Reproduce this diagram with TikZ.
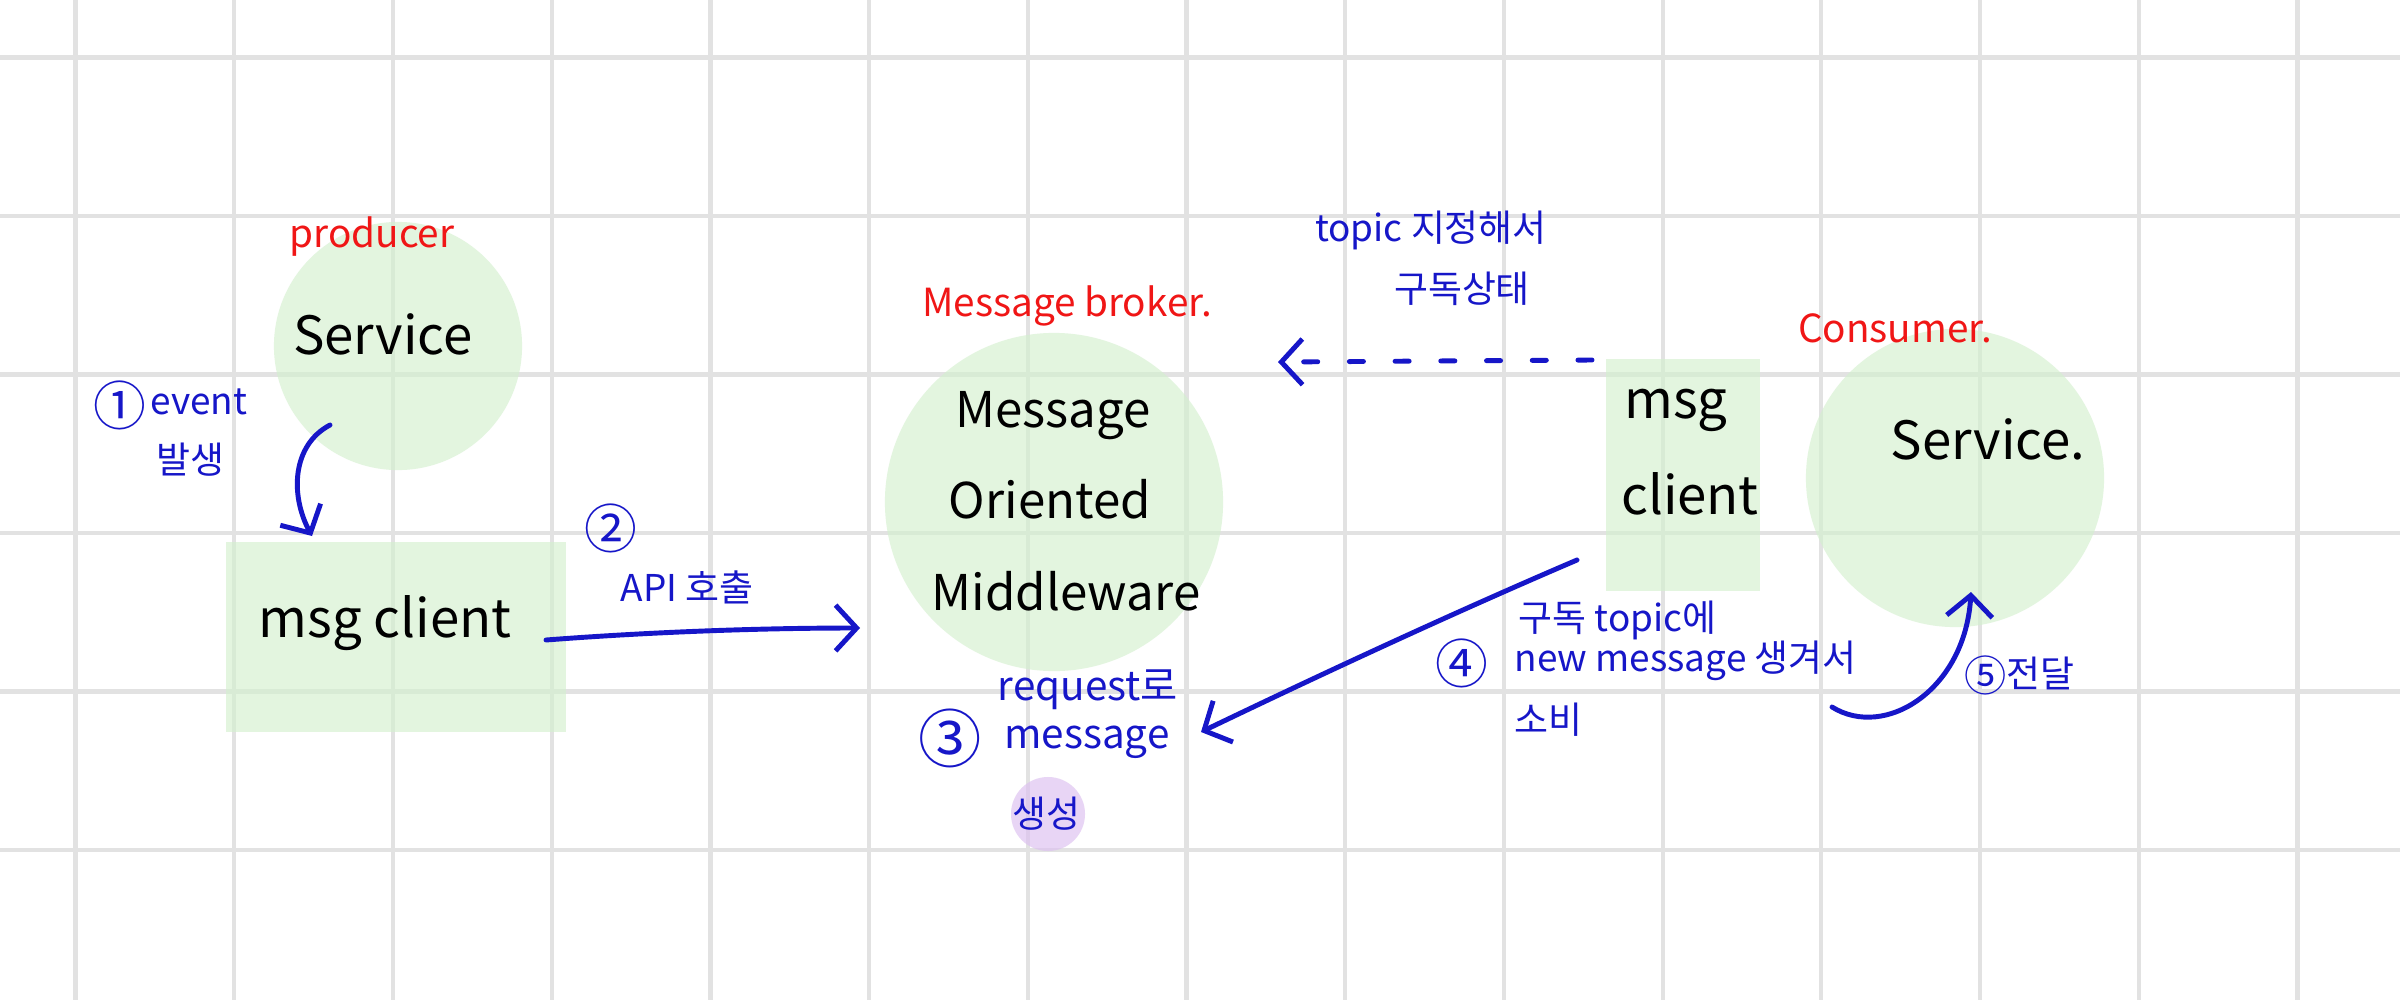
\documentclass[tikz,border=0pt]{standalone}
\usepackage{fontspec}
\setmainfont{Noto Sans CJK KR}
\usetikzlibrary{arrows.meta}
\definecolor{gridc}{RGB}{226,226,226}
\definecolor{greenb}{RGB}{212,240,207}
\definecolor{purpb}{RGB}{220,192,240}
\definecolor{penblue}{RGB}{22,22,200}
\definecolor{penred}{RGB}{240,22,22}
\tikzset{
  gridline/.style={draw=gridc, line width=1.2pt},
  greenblob/.style={fill=greenb, fill opacity=0.65, draw=none, inner sep=0pt},
  purpblob/.style={circle, fill=purpb, fill opacity=0.65, draw=none, inner sep=0pt, minimum size=0.74cm},
  blacktxt/.style={text=black, inner sep=0pt, font=\fontsize{15}{18}\selectfont},
  mowtxt/.style={text=black, inner sep=0pt, font=\fontsize{14}{17}\selectfont},
  redtxt/.style={text=penred, inner sep=0pt, font=\fontsize{11}{13}\selectfont},
  bluetxt/.style={text=penblue, inner sep=0pt, font=\fontsize{10.5}{12}\selectfont},
  numtxt/.style={text=penblue, inner sep=0pt, font=\fontsize{15}{17}\selectfont},
  penarrow/.style={draw=penblue, line width=1.4pt, line cap=round, line join=round,
    -{Straight Barb[length=6pt,width=13pt,line width=1.4pt]}},
}
\begin{document}
\begin{tikzpicture}[x=0.01cm,y=-0.01cm]
\useasboundingbox (0,0) rectangle (2400,1000);
\fill[white] (0,0) rectangle (2400,1000);
% grid
\foreach \i in {0,...,14} \draw[gridline] ({75.6+158.7*\i},0) -- ({75.6+158.7*\i},1000);
\foreach \j in {0,...,5} \draw[gridline] (0,{57.5+158.5*\j}) -- (2400,{57.5+158.5*\j});

% shapes
\node[greenblob, circle, minimum size=2.48cm] (prodsvc) at (398,346) {};
\node[greenblob, rectangle, minimum width=3.4cm, minimum height=1.89cm] (prodcli) at (396,637) {};
\node[greenblob, circle, minimum size=3.38cm] (broker) at (1054,502) {};
\node[greenblob, rectangle, minimum width=1.53cm, minimum height=2.31cm] (conscli) at (1683,475) {};
\node[greenblob, circle, minimum size=2.98cm] (conssvc) at (1955,478) {};
\node[purpblob] (createhl) at (1048,814) {};

% black texts
\node[blacktxt] (prodsvct) at (383,334) {Service};
\node[blacktxt] (prodclit) at (385,623) {msg client};
\node[mowtxt] (mow1) at (1053,416) {Message};
\node[mowtxt] (mow2) at (1050,499) {Oriented};
\node[mowtxt] (mow3) at (1066,591) {Middleware};
\node[blacktxt] (conscli1) at (1676,410) {msg};
\node[blacktxt] (conscli2) at (1690,494) {client};
\node[blacktxt] (conssvct) at (1988,439) {Service.};

% red labels
\node[redtxt] (prodlbl) at (372,237) {producer};
\node[redtxt] (brokerlbl) at (1067,306) {Message broker.};
\node[redtxt] (conslbl) at (1895,328) {Consumer.};

% blue annotations
\node[numtxt] (n1) at (120,405) {①};
\node[bluetxt, anchor=west] (ev1) at (150,402) {event};
\node[bluetxt] (ev2) at (190,460) {발생};
\node[numtxt] (n2) at (611,528) {②};
\node[bluetxt] (api) at (687,587) {API 호출};
\node[bluetxt, font=\fontsize{11.5}{13}\selectfont] (req) at (1088,690) {request로};
\node[numtxt, font=\fontsize{18}{20}\selectfont] (n3) at (950,738) {③};
\node[bluetxt, font=\fontsize{11.5}{13}\selectfont] (msg3) at (1087,742) {message};
\node[bluetxt] (gen) at (1046,814) {생성};
\node[bluetxt] (top1) at (1431,230) {topic 지정해서};
\node[bluetxt] (top2) at (1462,289) {구독상태};
\node[numtxt] (n4) at (1462,663) {④};
\node[bluetxt, anchor=west] (c1) at (1518,620) {구독 topic에};
\node[bluetxt, anchor=west] (c2) at (1514,661) {new message 생겨서};
\node[bluetxt, anchor=west] (c3) at (1514,720) {소비};
\node[numtxt, font=\fontsize{12}{14}\selectfont] (n5) at (1986,675) {⑤};
\node[bluetxt] (deliv) at (2040,673) {전달};

% connector end points
\coordinate (a1s) at (330,425);
\coordinate (a1e) at (312,536);
\coordinate (a2s) at (546,640);
\coordinate (a2e) at (860,628);
\coordinate (dss) at (1592,360);
\coordinate (dse) at (1278,362);
\coordinate (a4s) at (1577,560);
\coordinate (a4e) at (1201,732);
\coordinate (a5s) at (1832,707);
\coordinate (a5e) at (1971,592);

% connectors
\draw[penarrow] (a1s) .. controls (292,445) and (290,495) .. (a1e);
\draw[penarrow] (a2s) .. controls (650,632) and (760,628) .. (a2e);
\draw[penarrow, dash pattern=on 4pt off 9pt] (dss) -- (dse);
\draw[penarrow] (a4s) .. controls (1460,610) and (1330,670) .. (a4e);
\draw[penarrow] (a5s) .. controls (1885,740) and (1965,690) .. (a5e);
\end{tikzpicture}
\end{document}
